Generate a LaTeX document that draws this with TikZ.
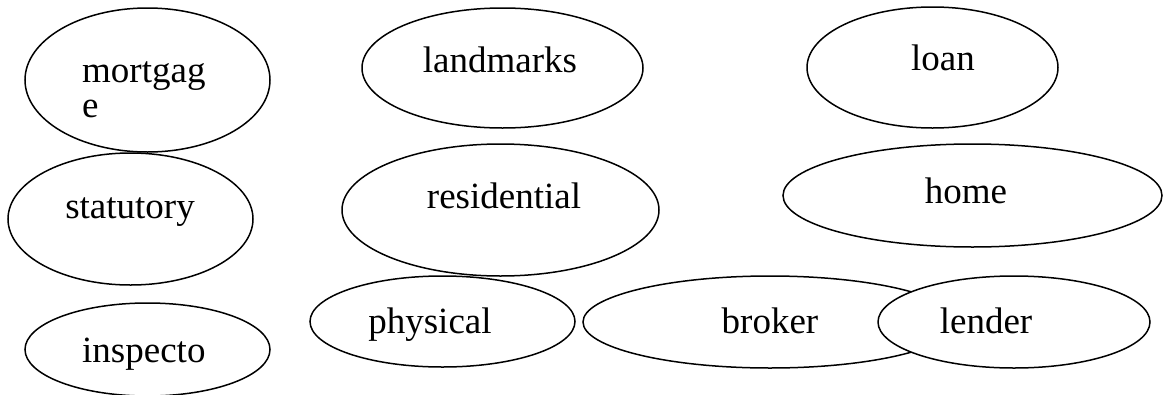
\documentclass[tikz,border=0pt]{standalone}
\usepackage{fontspec}
\setmainfont{Liberation Serif}
\usetikzlibrary{shapes.geometric}
\tikzset{
  oval/.style={draw=black, line width=1.5pt, fill=white, ellipse, inner sep=0pt},
  word/.style={inner sep=0pt, anchor=base, font=\fontsize{37}{35}\selectfont},
}
\begin{document}
\begin{tikzpicture}[x=1pt, y=-1pt]
\useasboundingbox (0,0) rectangle (1165,394);
% ellipses
\node[oval, minimum width=245pt, minimum height=144pt] (mortgage) at (147.5,80) {};
\node[oval, minimum width=281pt, minimum height=120pt] (landmarks) at (502.5,68) {};
\node[oval, minimum width=251pt, minimum height=121pt] (loan) at (932.5,67.5) {};
\node[oval, minimum width=245pt, minimum height=132pt] (statutory) at (130.5,219) {};
\node[oval, minimum width=317pt, minimum height=132pt] (residential) at (500.5,210) {};
\node[oval, minimum width=379pt, minimum height=103pt] (home) at (972.5,195.5) {};
\node[oval, minimum width=245pt, minimum height=93pt] (inspector) at (147.5,349.5) {};
\node[oval, minimum width=265pt, minimum height=91pt] (physical) at (442.5,321.5) {};
\node[oval, minimum width=374pt, minimum height=92pt] (broker) at (770,322) {};
\node[oval, minimum width=272pt, minimum height=92pt] (lender) at (1014,322) {};
% labels
\node[word, anchor=base west] (mortgage-t1) at (82,82) {mortgag};
\node[word, anchor=base west] (mortgage-t2) at (82,117) {e};
\node[word] (landmarks-t) at (500,72) {landmarks};
\node[word] (loan-t) at (943,70) {loan};
\node[word] (statutory-t) at (130,218) {statutory};
\node[word] (residential-t) at (504,208) {residential};
\node[word] (home-t) at (966,203) {home};
\node[word, anchor=base west] (inspector-t) at (82,362) {inspecto};
\node[word] (physical-t) at (430,333) {physical};
\node[word] (broker-t) at (770,333) {broker};
\node[word] (lender-t) at (986,333) {lender};
\end{tikzpicture}
\end{document}
